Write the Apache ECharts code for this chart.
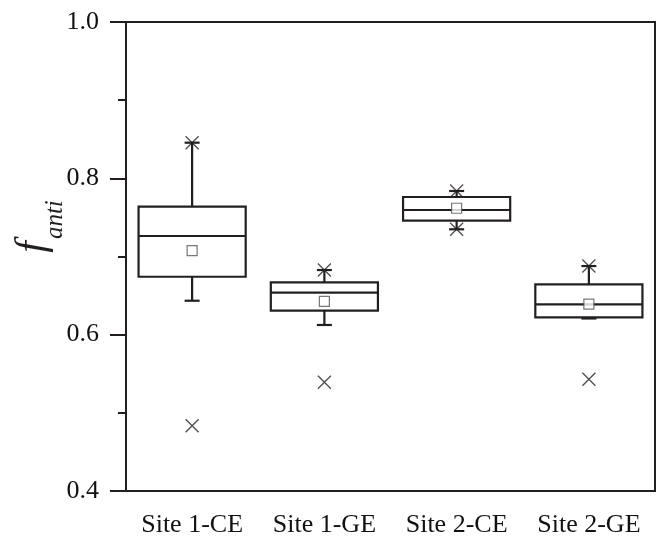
<!doctype html>
<html>
<head>
<meta charset="UTF-8">
<title>f_anti box chart</title>
<script src="https://cdn.jsdelivr.net/npm/echarts@6/dist/echarts.min.js"></script>
<style>
	html, body { margin: 0; padding: 0; background: #fff; }
	#chart { width: 656px; height: 543px; }
</style>
</head>
<body>
<div id="chart"></div>
<script type="text/javascript">
	// categories and box statistics
	var categories = ['Site 1-CE', 'Site 1-GE', 'Site 2-CE', 'Site 2-GE'];
	var whiskerLow = [0.6434, 0.6124, 0.7348, 0.6207];
	var q1 = [0.6741, 0.6307, 0.7458, 0.6220];
	var median = [0.7262, 0.6537, 0.7595, 0.6388];
	var q3 = [0.7637, 0.6670, 0.7761, 0.6644];
	var whiskerHigh = [0.8456, 0.6827, 0.7838, 0.6878];
	var mean = [0.7074, 0.6427, 0.7617, 0.6392];
	var crossHigh = [0.8456, 0.6827, 0.7838, 0.6878];
	var crossLow = [0.4835, 0.5391, 0.7348, 0.5430];

	var yTicks = [0.4, 0.6, 0.8, 1.0];

	var INK = '#231f20';
	var FONT = 'Liberation Serif';

	var boxData = categories.map(function(c, i) {
		return [i, whiskerLow[i], q1[i], median[i], q3[i], whiskerHigh[i]];
	});
	var meanData = mean.map(function(v, i) { return [i, v]; });
	var crossData = [];
	for (var i = 0; i < categories.length; i++) {
		crossData.push([i, crossHigh[i]]);
		crossData.push([i, crossLow[i]]);
	}

	function renderBox(params, api) {
		var idx = api.value(0);
		var cx = api.coord([idx, 0])[0];
		var w = api.size([1, 0])[0] * 0.81;
		var yLow = api.coord([idx, api.value(1)])[1];
		var yQ1 = api.coord([idx, api.value(2)])[1];
		var yMed = api.coord([idx, api.value(3)])[1];
		var yQ3 = api.coord([idx, api.value(4)])[1];
		var yHigh = api.coord([idx, api.value(5)])[1];
		var cap = 7.5;
		var st = { stroke: INK, lineWidth: 2.2, fill: 'none' };
		return {
			type: 'group',
			children: [
				{ type: 'line', shape: { x1: cx, y1: yQ3, x2: cx, y2: yHigh }, style: st },
				{ type: 'line', shape: { x1: cx, y1: yQ1, x2: cx, y2: yLow }, style: st },
				{ type: 'line', shape: { x1: cx - cap, y1: yHigh, x2: cx + cap, y2: yHigh }, style: st },
				{ type: 'line', shape: { x1: cx - cap, y1: yLow, x2: cx + cap, y2: yLow }, style: st },
				{ type: 'rect', shape: { x: cx - w / 2, y: yQ3, width: w, height: yQ1 - yQ3 }, style: st },
				{ type: 'line', shape: { x1: cx - w / 2, y1: yMed, x2: cx + w / 2, y2: yMed }, style: st }
			]
		};
	}

	var chart = echarts.init(document.getElementById('chart'));
	var option = {
		animation: false,
		grid: {
			left: 126,
			right: 1,
			top: 22,
			bottom: 52,
			outerBoundsMode: 'none',
			show: true,
			borderColor: INK,
			borderWidth: 2
		},
		xAxis: {
			type: 'category',
			data: categories,
			boundaryGap: true,
			axisLine: { lineStyle: { color: INK, width: 2 } },
			axisTick: { alignWithLabel: true, length: 16, lineStyle: { color: INK, width: 2 } },
			axisLabel: { interval: 0, color: '#111', fontFamily: FONT, fontSize: 26, margin: 21 },
			splitLine: { show: false }
		},
		yAxis: {
			type: 'value',
			min: 0.4,
			max: 1.0,
			interval: 0.2,
			name: '{f|f}{s|anti}',
			nameLocation: 'middle',
			nameRotate: 90,
			nameGap: 58,
			nameMoveOverlap: false,
			nameTextStyle: {
				padding: [0, 0, 0, 60],
				rich: {
					f: { fontFamily: FONT, fontStyle: 'italic', fontSize: 42, color: INK, padding: [0, 0, 14, 0] },
					s: { fontFamily: FONT, fontStyle: 'italic', fontSize: 25, color: INK, verticalAlign: 'bottom', padding: [0, 0, 0, 2] }
				}
			},
			axisLine: { show: true, lineStyle: { color: INK, width: 2 } },
			axisTick: { show: true, length: 16, lineStyle: { color: INK, width: 2 } },
			minorTick: { show: true, splitNumber: 2, length: 8, lineStyle: { color: INK, width: 2 } },
			axisLabel: {
				color: '#111', fontFamily: FONT, fontSize: 26, margin: 27,
				formatter: function(v) {
					for (var k = 0; k < yTicks.length; k++) {
						if (Math.abs(yTicks[k] - v) < 1e-6) return yTicks[k].toFixed(1);
					}
					return '';
				}
			},
			splitLine: { show: false }
		},
		series: [
			{
				type: 'custom',
				renderItem: renderBox,
				data: boxData,
				z: 2
			},
			{
				type: 'scatter',
				data: meanData,
				symbol: 'rect',
				symbolSize: 10,
				itemStyle: { color: '#fff', borderColor: '#555', borderWidth: 1.2 },
				z: 3
			},
			{
				type: 'scatter',
				data: crossData,
				symbol: 'path://M0,0L10,10M10,0L0,10',
				symbolSize: 13,
				itemStyle: { color: 'none', borderColor: INK, borderWidth: 1.3 },
				z: 4
			}
		]
	};
	chart.setOption(option);
</script>
</body>
</html>
